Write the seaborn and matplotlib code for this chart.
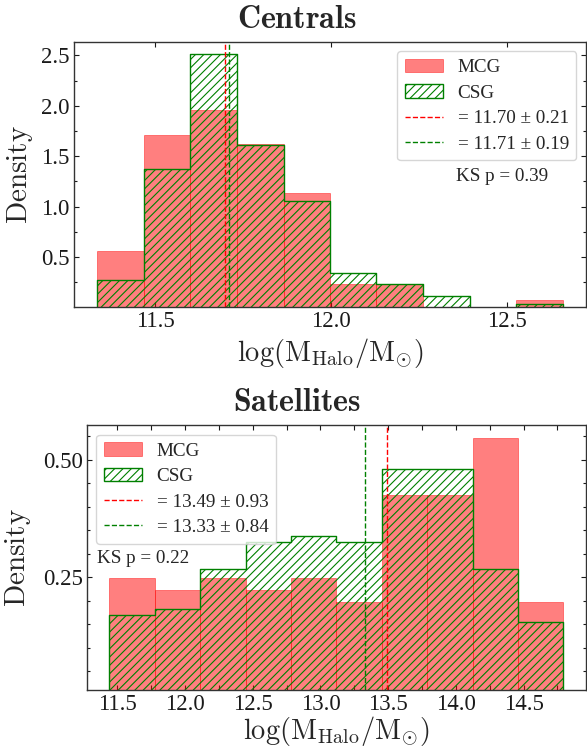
import matplotlib
matplotlib.use("Agg")
import matplotlib.pyplot as plt
from matplotlib.ticker import MultipleLocator, NullLocator
import seaborn as sns

# ---- Centrals: shared bin edges and normalised densities ----
cen_edges = [11.336, 11.468, 11.600, 11.733, 11.865, 11.997,
             12.129, 12.261, 12.394, 12.526, 12.658]
cen_mcg = [0.562, 1.708, 1.955, 1.626, 1.132, 0.236, 0.236, 0.0, 0.0, 0.078]
cen_csg = [0.276, 1.370, 2.509, 1.607, 1.056, 0.348, 0.233, 0.111, 0.0, 0.036]
cen_mean = [11.70, 11.71]   # MCG, CSG
cen_std = [0.21, 0.19]
cen_ks = 0.39

# ---- Satellites ----
sat_edges = [11.441, 11.776, 12.112, 12.447, 12.782, 13.118,
             13.453, 13.788, 14.124, 14.459, 14.794]
sat_mcg = [0.249, 0.223, 0.249, 0.223, 0.249, 0.198, 0.4235, 0.4235, 0.546, 0.198]
sat_csg = [0.169, 0.183, 0.267, 0.324, 0.338, 0.324, 0.479, 0.479, 0.267, 0.155]
sat_mean = [13.49, 13.33]
sat_std = [0.93, 0.84]
sat_ks = 0.22

sns.set_style("ticks")
plt.rcParams["font.family"] = ["Liberation Serif", "DejaVu Serif"]
plt.rcParams["mathtext.fontset"] = "cm"
plt.rcParams["hatch.linewidth"] = 0.8
plt.rcParams["axes.edgecolor"] = "0.2"
plt.rcParams["axes.linewidth"] = 1.0

fig = plt.figure(figsize=(5.87, 7.5), dpi=100)
ax_top = fig.add_axes([0.1261, 0.5911, 0.8722, 0.3533])
ax_bot = fig.add_axes([0.1477, 0.0800, 0.8506, 0.3533])


def panel(ax, edges, mcg, csg, means, stds, ks, title, title_x, title_y,
          legend_loc, ks_xy, ylab_x, xlab_y, ymaj, ymin, xminor):
    centers = [(a + b) / 2 for a, b in zip(edges[:-1], edges[1:])]
    sns.histplot(x=centers, weights=mcg, bins=edges, stat="count",
                 element="bars", color="red", alpha=0.5,
                 edgecolor=(1, 0, 0, 0.5), linewidth=0.6,
                 label="MCG", ax=ax)
    sns.histplot(x=centers, weights=csg, bins=edges, stat="count",
                 element="step", fill=True, color="green",
                 facecolor="none", edgecolor="green", hatch="////",
                 linewidth=1.0, label="CSG", ax=ax)
    for m, s, c in zip(means, stds, ["red", "green"]):
        ax.axvline(m, color=c, ls="--", lw=1.0,
                   label=f"= {m:.2f} \u00b1 {s:.2f}")

    top = 1.05 * max(max(mcg), max(csg))
    ax.set_ylim(0.01, top)
    span = edges[-1] - edges[0]
    ax.set_xlim(edges[0] - 0.05 * span, edges[-1] + 0.05 * span)

    h, l = ax.get_legend_handles_labels()
    order = ["MCG", "CSG",
             f"= {means[0]:.2f} \u00b1 {stds[0]:.2f}",
             f"= {means[1]:.2f} \u00b1 {stds[1]:.2f}"]
    hh = [h[l.index(o)] for o in order]
    ax.legend(hh, order, loc=legend_loc, fontsize=13.8,
              labelspacing=0.42, handletextpad=0.75)
    ax.text(ks_xy[0], ks_xy[1], f"KS p = {ks:.2f}", transform=ax.transAxes,
            fontsize=13.8, va="center", ha="left")

    ax.xaxis.set_major_locator(MultipleLocator(0.5))
    if xminor:
        ax.xaxis.set_minor_locator(MultipleLocator(xminor))
    else:
        ax.xaxis.set_minor_locator(NullLocator())
    ax.yaxis.set_major_locator(MultipleLocator(ymaj))
    ax.yaxis.set_minor_locator(MultipleLocator(ymin))
    ax.tick_params(which="both", direction="in", top=True, right=True,
                   labelsize=16.5, width=0.8, colors="0.1")
    ax.tick_params(which="major", length=3.6, pad=3)
    ax.tick_params(axis="y", which="minor", length=2.0)
    ax.tick_params(axis="x", which="minor", length=3.6)

    ax.set_ylabel(r"$\mathrm{Density}$", fontsize=21)
    ax.yaxis.set_label_coords(ylab_x, 0.5)
    ax.set_xlabel(r"$\mathrm{log(M_{Halo}/M_{\odot})}$", fontsize=20.5)
    ax.xaxis.set_label_coords(0.5, xlab_y)
    ax.set_title(r"$\mathbf{%s}$" % title, fontsize=23,
                 x=title_x, y=title_y, pad=0)


panel(ax_top, cen_edges, cen_mcg, cen_csg, cen_mean, cen_std, cen_ks,
      "Centrals", 0.4355, 1.0506, "upper right", (0.746, 0.49),
      -0.0762, -0.112, 0.5, 0.25, None)
panel(ax_bot, sat_edges, sat_mcg, sat_csg, sat_mean, sat_std, sat_ks,
      "Satellites", 0.421, 1.054, "upper left", (0.021, 0.498),
      -0.1075, -0.092, 0.25, 0.05, 0.25)

fig.savefig("out.png", dpi=100)
